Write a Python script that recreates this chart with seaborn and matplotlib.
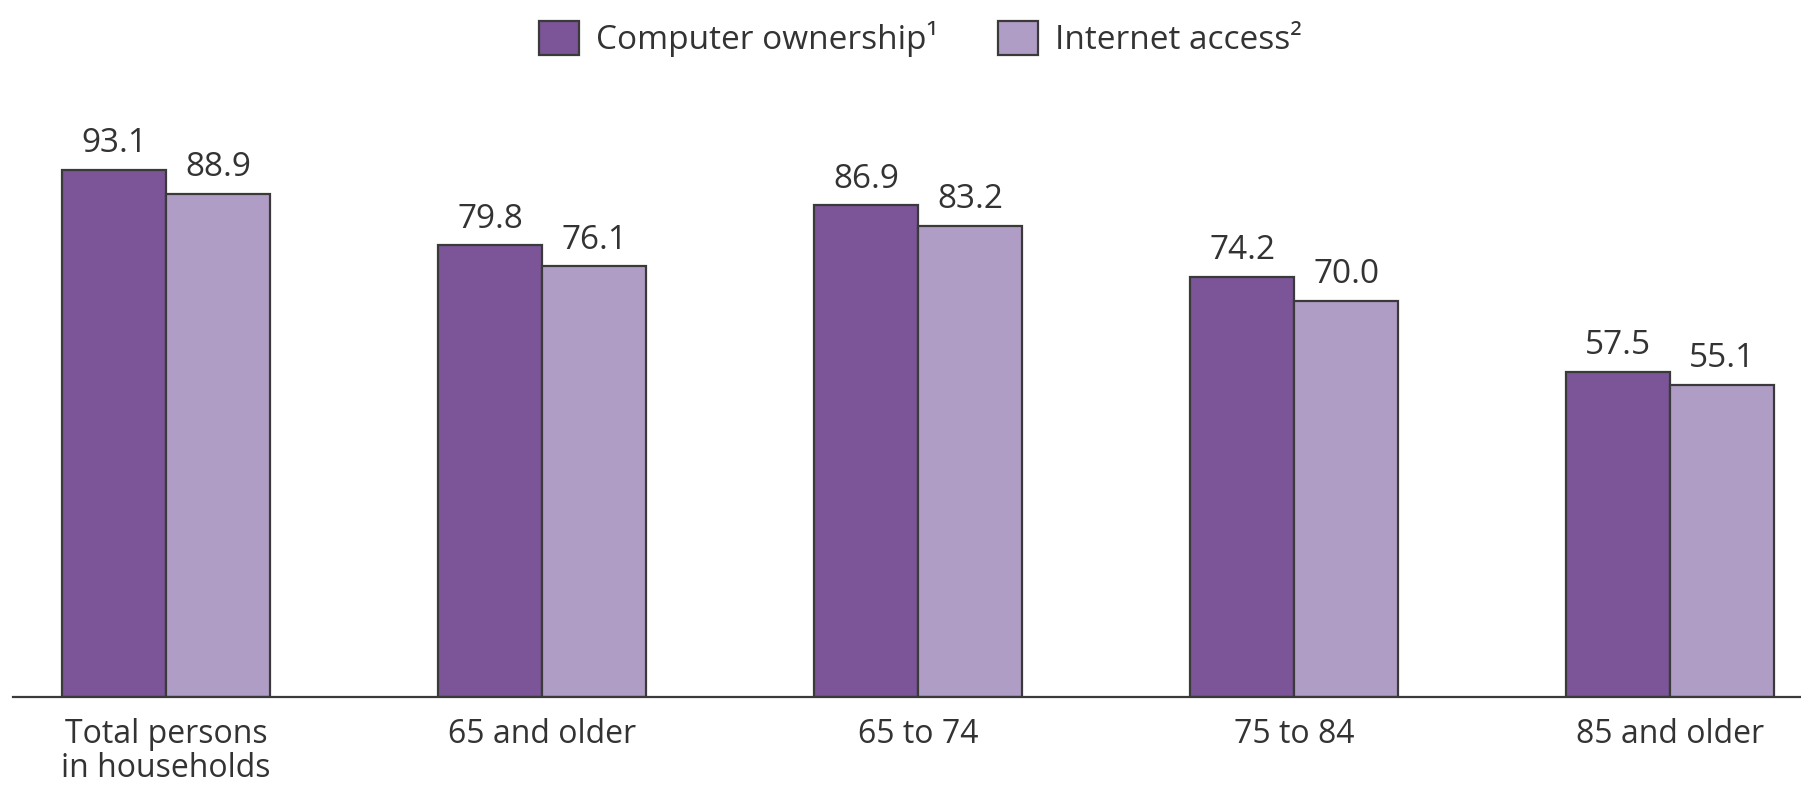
import matplotlib
matplotlib.use("Agg")
import matplotlib.pyplot as plt
from matplotlib.patches import Patch
import seaborn as sns
import pandas as pd

# Household computer ownership and internet access by age group (percent)
categories = ["Total persons\nin households", "65 and older", "65 to 74", "75 to 84", "85 and older"]
computer_ownership = [93.1, 79.8, 86.9, 74.2, 57.5]
internet_access = [88.9, 76.1, 83.2, 70.0, 55.1]
series_names = ["Computer ownership\u00b9", "Internet access\u00b2"]
colors = ["#7b5597", "#b09dc6"]

df = pd.DataFrame({
    "group": categories * 2,
    "series": [series_names[0]] * len(categories) + [series_names[1]] * len(categories),
    "value": computer_ownership + internet_access,
})

sns.set_theme(style="white")
plt.rcParams["font.family"] = ["Open Sans", "DejaVu Sans"]
text_color = "#333333"

fig = plt.figure(figsize=(18.01, 7.86), dpi=100)
ax = fig.add_axes([13 / 1801, 89 / 786, 1 - 13 / 1801, (697 - 100) / 786])

sns.barplot(
    data=df, x="group", y="value", hue="series", order=categories,
    hue_order=series_names, palette=colors, width=0.553, gap=0,
    edgecolor="#3a3a3a", linewidth=1.6, saturation=1, ax=ax, legend=False,
)

for container in ax.containers:
    ax.bar_label(container, fmt="%.1f", padding=7, fontsize=24, color=text_color)

ax.set_xlim(-0.407, 4.348)
ax.set_ylim(0, 105.5)
ax.set_xlabel("")
ax.set_ylabel("")
ax.set_yticks([])
ax.tick_params(axis="x", length=0, pad=15, labelsize=23, labelcolor=text_color)
for label in ax.get_xticklabels():
    label.set_verticalalignment("top")
    label.set_linespacing(1.05)
for side in ["top", "right", "left"]:
    ax.spines[side].set_visible(False)
ax.spines["bottom"].set_color("#3a3a3a")
ax.spines["bottom"].set_linewidth(1.6)

handles = [Patch(facecolor=c, edgecolor="#3a3a3a", linewidth=1.6) for c in colors]
fig.legend(
    handles, series_names, loc="upper center", bbox_to_anchor=(0.511, 1.012),
    ncol=2, frameon=False, fontsize=24, handlelength=1.2, handleheight=1.2,
    handletextpad=0.5, columnspacing=1.8, labelcolor=text_color,
)

fig.savefig("out.png", dpi=100, facecolor="white")
